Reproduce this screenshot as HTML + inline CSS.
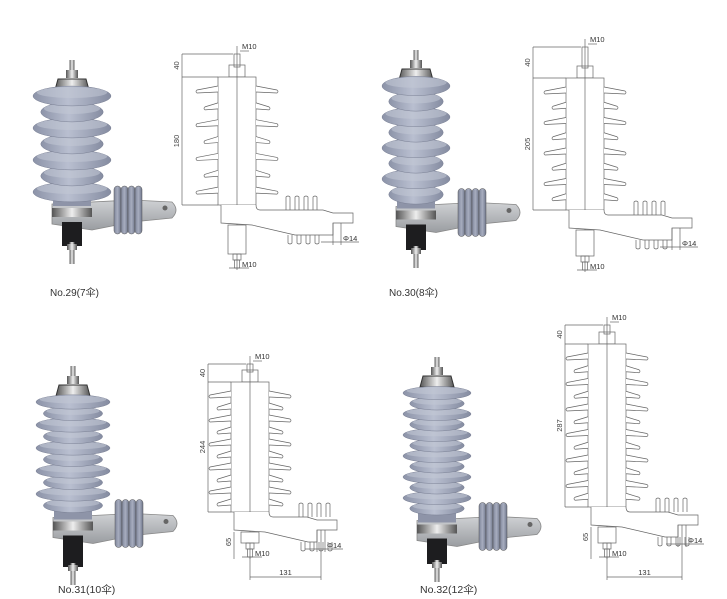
<!DOCTYPE html>
<html><head><meta charset="utf-8"><style>
html,body{margin:0;padding:0;background:#fff;width:727px;height:599px;overflow:hidden}
svg{display:block}
text{font-family:"Liberation Sans","Noto Sans CJK SC",sans-serif}
</style></head><body>
<svg id="s" width="727" height="599" viewBox="0 0 727 599" xmlns="http://www.w3.org/2000/svg">
<defs>
<linearGradient id="sh" x1="0" x2="1" y1="0" y2="0"><stop offset="0" stop-color="#8c93a8"/><stop offset=".45" stop-color="#b9bfd0"/><stop offset="1" stop-color="#858ca1"/></linearGradient>
<linearGradient id="fn" x1="0" x2="1" y1="0" y2="0"><stop offset="0" stop-color="#7f869b"/><stop offset=".5" stop-color="#a7adbf"/><stop offset="1" stop-color="#6f768b"/></linearGradient>
<linearGradient id="mt" x1="0" x2="1"><stop offset="0" stop-color="#555"/><stop offset=".5" stop-color="#eee"/><stop offset="1" stop-color="#555"/></linearGradient>
<linearGradient id="br" x1="0" x2="0" y1="0" y2="1"><stop offset="0" stop-color="#cfd1d4"/><stop offset="1" stop-color="#9a9da1"/></linearGradient>
</defs>
<g id="g" fill="none"></g>
<text x="50" y="296" font-size="10" fill="#333">No.29(7伞)</text>
<text x="389" y="296" font-size="10" fill="#333">No.30(8伞)</text>
<text x="58" y="593" font-size="10.5" fill="#333">No.31(10伞)</text>
<text x="420" y="593" font-size="10.5" fill="#333">No.32(12伞)</text>
</svg>
<script>
var g=document.getElementById('g'),o='';
function P(cx,top,n,sy,rx,bot){
 o+='<rect x="'+(cx-2.5)+'" y="'+top+'" width="5" height="18" fill="url(#mt)"/>';
 o+='<rect x="'+(cx-6)+'" y="'+(top+10)+'" width="12" height="8" fill="url(#mt)"/>';
 o+='<path d="M'+(cx-17)+' '+(top+30)+' L'+(cx-14)+' '+(top+19)+' L'+(cx+14)+' '+(top+19)+' L'+(cx+17)+' '+(top+30)+'Z" fill="url(#mt)" stroke="#333" stroke-width="1"/>';
 var y0=top+36, yl=y0+(n-1)*sy;
 o+='<path d="M'+(cx-20)+' '+(yl+12)+' L'+(cx+60)+' '+(yl+8)+' L'+(cx+100)+' '+(yl+10)+' Q'+(cx+108)+' '+(yl+18)+' '+(cx+100)+' '+(yl+26)+' L'+(cx+60)+' '+(yl+30)+' L'+(cx+20)+' '+(yl+38)+' L'+(cx-20)+' '+(yl+32)+'Z" fill="url(#br)" stroke="#888" stroke-width=".8"/>';
 o+='<circle cx="'+(cx+93)+'" cy="'+(yl+16)+'" r="2.5" fill="#666"/>';
 for(var k=0;k<4;k++){var fx=cx+42+k*7;o+='<rect x="'+fx+'" y="'+(yl-6)+'" width="7" height="'+(48)+'" rx="3.5" fill="url(#fn)" stroke="#555" stroke-width=".5"/>';}
 o+='<rect x="'+(cx-19)+'" y="'+y0+'" width="38" height="'+(yl-y0+14)+'" fill="#8e94a8"/>';
 for(var i=n-1;i>=0;i--){var y=y0+i*sy,r=(i%2==0)?rx:rx*0.8,ry=sy*0.62;
  o+='<ellipse cx="'+cx+'" cy="'+y+'" rx="'+r+'" ry="'+ry+'" fill="url(#sh)" stroke="#7a8094" stroke-width=".5"/>';
  o+='<ellipse cx="'+cx+'" cy="'+(y-ry*0.35)+'" rx="'+(r*0.9)+'" ry="'+(ry*0.55)+'" fill="#c3c8d6" opacity=".55"/>';}
 o+='<rect x="'+(cx-20)+'" y="'+(yl+16)+'" width="40" height="9" fill="url(#mt)"/>';
 o+='<rect x="'+(cx-10)+'" y="'+(yl+30)+'" width="20" height="'+(bot-yl-48)+'" fill="#1d1d1f"/>';
 o+='<rect x="'+(cx-2.5)+'" y="'+(bot-22)+'" width="5" height="22" fill="url(#mt)"/>';
 o+='<rect x="'+(cx-5)+'" y="'+(bot-20)+'" width="10" height="6" fill="url(#mt)"/>';
}
P(72,60,7,16,39,264);
P(416,50,8,15.5,34,268);
P(73,366,10,11.5,37,585);
P(437,357,12,10.5,34,582);
var L='stroke="#666" stroke-width=".7"';
function D(ax,yt,yb,ybe,n,bx,dx,lt,bo,d131){
 var hw=19,sw=42,gy=(ybe-yb-10)/n;
 o+='<line x1="'+dx+'" y1="'+yt+'" x2="'+dx+'" y2="'+ybe+'" '+L+'/>';
 o+='<line x1="'+dx+'" y1="'+yt+'" x2="'+(ax-4)+'" y2="'+yt+'" '+L+'/>';
 o+='<line x1="'+dx+'" y1="'+yb+'" x2="'+(ax-hw)+'" y2="'+yb+'" '+L+'/>';
 o+='<line x1="'+dx+'" y1="'+ybe+'" x2="'+(ax-hw)+'" y2="'+ybe+'" '+L+'/>';
 o+='<text x="'+(dx-3)+'" y="'+((yt+yb)/2)+'" font-size="7.5" fill="#444" text-anchor="middle" transform="rotate(-90 '+(dx-3)+' '+((yt+yb)/2)+')">40</text>';
 o+='<text x="'+(dx-3)+'" y="'+((yb+ybe)/2)+'" font-size="7.5" fill="#444" text-anchor="middle" transform="rotate(-90 '+(dx-3)+' '+((yb+ybe)/2)+')">'+lt+'</text>';
 o+='<rect x="'+(ax-3)+'" y="'+(yt)+'" width="6" height="'+(yb-yt-10)+'" '+L+'/>';
 o+='<rect x="'+(ax-8)+'" y="'+(yb-12)+'" width="16" height="12" '+L+'/>';
 o+='<rect x="'+(ax-hw)+'" y="'+yb+'" width="'+(2*hw)+'" height="'+(ybe-yb)+'" fill="#fff" '+L+'/>';
 for(var i=0;i<n;i++){var y=yb+12+i*gy,w=(i%2==0)?sw:sw-8;
  o+='<path d="M'+(ax-hw)+' '+(y-3)+' L'+(ax-w+2)+' '+(y+1)+' Q'+(ax-w)+' '+(y+2.5)+' '+(ax-w+2)+' '+(y+4)+' L'+(ax-hw)+' '+(y+3)+' M'+(ax+hw)+' '+(y-3)+' L'+(ax+w-2)+' '+(y+1)+' Q'+(ax+w)+' '+(y+2.5)+' '+(ax+w-2)+' '+(y+4)+' L'+(ax+hw)+' '+(y+3)+'" fill="#fff" '+L+'/>';}
 o+='<line x1="'+ax+'" y1="'+(yt-8)+'" x2="'+ax+'" y2="'+(bo+2)+'" '+L+'/>';
 o+='<line x1="'+(ax+3)+'" y1="'+(yt-3)+'" x2="'+(ax+12)+'" y2="'+(yt-3)+'" '+L+'/>';
 o+='<text x="'+(ax+5)+'" y="'+(yt-5)+'" font-size="7.5" fill="#333">M10</text>';
 var y=ybe;
 o+='<path d="M'+(ax-hw+3)+' '+(y)+' L'+(ax-hw+3)+' '+(y+18)+' L'+(ax+hw-4)+' '+(y+20)+' L'+(ax+58)+' '+(y+30)+' L'+(bx-20)+' '+(y+30)+' L'+(bx-20)+' '+(y+18)+' L'+bx+' '+(y+18)+' L'+bx+' '+(y+8)+' L'+(bx-20)+' '+(y+8)+' L'+(bx-30)+' '+(y+5)+' L'+(ax+hw+4)+' '+(y+5)+' Q'+(ax+hw)+' '+(y+5)+' '+(ax+hw)+' '+y+'" fill="#fff" '+L+'/>';
 for(var k=0;k<4;k++){var fx=ax+hw+30+k*9;
  o+='<path d="M'+fx+' '+(y+5)+' L'+fx+' '+(y-8)+' Q'+(fx+2)+' '+(y-10)+' '+(fx+4)+' '+(y-8)+' L'+(fx+4)+' '+(y+5)+'" '+L+'/>';
  o+='<path d="M'+(fx+2)+' '+(y+30)+' L'+(fx+2)+' '+(y+38)+' Q'+(fx+4)+' '+(y+40)+' '+(fx+6)+' '+(y+38)+' L'+(fx+6)+' '+(y+30)+'" '+L+'/>';}
 o+='<rect x="'+(ax-9)+'" y="'+(y+20)+'" width="18" height="'+(bo-y-34)+'" fill="#fff" '+L+'/>';
 o+='<rect x="'+(ax-4)+'" y="'+(bo-14)+'" width="8" height="6" '+L+'/>';
 o+='<rect x="'+(ax-2.5)+'" y="'+(bo-8)+'" width="5" height="8" '+L+'/>';
 o+='<line x1="'+(ax-8)+'" y1="'+(bo)+'" x2="'+(ax+12)+'" y2="'+bo+'" '+L+'/>';
 o+='<text x="'+(ax+5)+'" y="'+(bo-1)+'" font-size="7.5" fill="#333">M10</text>';
 o+='<line x1="'+(bx-20)+'" y1="'+(y+18)+'" x2="'+(bx-20)+'" y2="'+(y+40)+'" '+L+'/>';
 o+='<line x1="'+(bx-12)+'" y1="'+(y+18)+'" x2="'+(bx-12)+'" y2="'+(y+40)+'" '+L+'/>';
 o+='<line x1="'+(bx-32)+'" y1="'+(y+37)+'" x2="'+(bx+6)+'" y2="'+(y+37)+'" '+L+'/>';
 o+='<text x="'+(bx-10)+'" y="'+(y+36)+'" font-size="7.5" fill="#333">Φ14</text>';
 if(d131){
  o+='<line x1="'+(ax-hw+3)+'" y1="'+(y+20)+'" x2="'+(ax-hw+3)+'" y2="'+(bo+2)+'" '+L+'/>';
  o+='<text x="'+(ax-hw)+'" y="'+(y+30)+'" font-size="7.5" fill="#444" text-anchor="middle" transform="rotate(-90 '+(ax-hw)+' '+(y+30)+')">65</text>';
  o+='<line x1="'+(bx-16)+'" y1="'+(y+18)+'" x2="'+(bx-16)+'" y2="'+d131+'" '+L+'/>';
  o+='<line x1="'+ax+'" y1="'+bo+'" x2="'+ax+'" y2="'+d131+'" '+L+'/>';
  o+='<line x1="'+ax+'" y1="'+(d131-3)+'" x2="'+(bx-16)+'" y2="'+(d131-3)+'" '+L+'/>';
  o+='<text x="'+((ax+bx-16)/2)+'" y="'+(d131-5)+'" font-size="7.5" fill="#333" text-anchor="middle">131</text>';
 }
}
D(237,54,77,205,7,353,182,'180',268,0);
D(585,47,78,210,8,692,533,'205',270,0);
D(250,364,382,512,10,337,208,'244',557,580);
D(607,325,344,507,12,698,565,'287',557,580);
g.innerHTML=o;
</script>
</body></html>
